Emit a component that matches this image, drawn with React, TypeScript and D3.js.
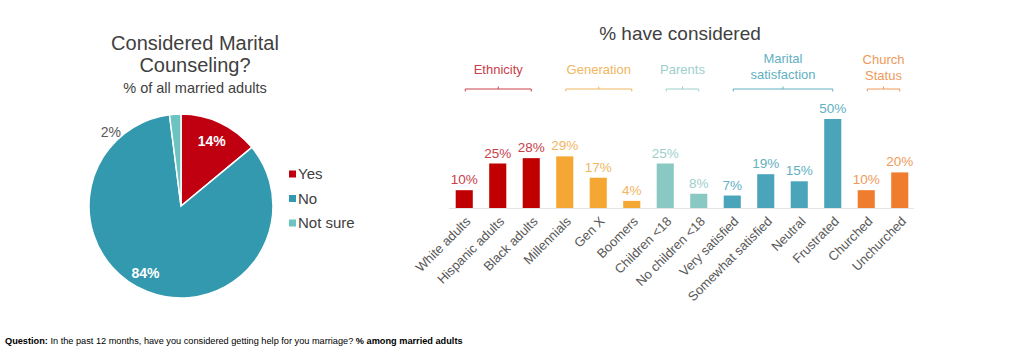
import React from "react";
import * as d3 from "d3";

const pieLabels = ["Yes", "No", "Not sure"];
const pieValues = [14, 84, 2];
const pieColors = ["#C00010", "#3399AE", "#6CC4C0"];

const categories = [
  "White adults", "Hispanic adults", "Black adults",
  "Millennials", "Gen X", "Boomers",
  "Children <18", "No children <18",
  "Very satisfied", "Somewhat satisfied", "Neutral", "Frustrated",
  "Churched", "Unchurched",
];
const values = [10, 25, 28, 29, 17, 4, 25, 8, 7, 19, 15, 50, 10, 20];
const groupNames = [["Ethnicity"], ["Generation"], ["Parents"], ["Marital", "satisfaction"], ["Church", "Status"]];
const groupStart = [0, 3, 6, 8, 12];
const groupEnd = [2, 5, 7, 11, 13];
const groupBar = ["#C00000", "#F5A733", "#8AC8C3", "#4BA5BA", "#F07C2E"];
const groupText = ["#C9404A", "#F2B560", "#9DD0CB", "#62B0C2", "#EE9A5A"];

const FONT = "'Liberation Sans', Arial, sans-serif";

export default function App() {
  const W = 1024, H = 357;
  const cx = 181, cy = 206, r = 92;
  const pie = d3.pie<number>().sort(null).value((d) => d)(pieValues);
  const arc = d3.arc<d3.PieArcDatum<number>>().innerRadius(0).outerRadius(r);
  const labelArc = d3.arc<d3.PieArcDatum<number>>().innerRadius(72).outerRadius(72);

  const x = d3.scaleBand<string>().domain(categories).range([447.5, 916.5]).paddingInner(0.49).paddingOuter(0.245);
  const y = d3.scaleLinear().domain([0, 50]).range([208, 119]);
  const groupOf = (i: number) => groupStart.findIndex((s, g) => i >= s && i <= groupEnd[g]);
  const bw = x.bandwidth();

  return (
    <svg width={W} height={H} style={{ position: "absolute", left: 0, top: 0, background: "#fff" }} fontFamily={FONT}>
      <text x={195} y={50} textAnchor="middle" fontSize={20} fill="#404040">Considered Marital</text>
      <text x={195} y={72} textAnchor="middle" fontSize={20} fill="#404040">Counseling?</text>
      <text x={195} y={93} textAnchor="middle" fontSize={14.5} fill="#404040">% of all married adults</text>
      <g transform={`translate(${cx},${cy})`}>
        {pie.map((d, i) => (
          <path key={i} d={arc(d) || ""} fill={pieColors[i]} stroke="#fff" strokeWidth={1.5} />
        ))}
        {pie.slice(0, 2).map((d, i) => {
          const [lx, ly] = labelArc.centroid(d);
          const off = i === 1 ? -9 : 0;
          return (
            <text key={i} x={lx + off} y={ly} dy="0.35em" textAnchor="middle" fontSize={14} fontWeight="bold" fill="#fff">
              {pieValues[i]}%
            </text>
          );
        })}
        <text x={-60} y={-74} dy="0.35em" textAnchor="end" fontSize={14} fill="#595959">{pieValues[2]}%</text>
      </g>
      {pieLabels.map((l, i) => (
        <g key={l} transform={`translate(289,${174 + i * 24.5})`}>
          <rect x={0} y={-3.5} width={7} height={7} fill={pieColors[i]} />
          <text x={9} y={0} dy="0.35em" fontSize={15} fill="#404040">{l}</text>
        </g>
      ))}

      <text x={680} y={40} textAnchor="middle" fontSize={19} fill="#404040">% have considered</text>
      {groupNames.map((lines, g) => {
        const x0 = (x(categories[groupStart[g]]) as number) + bw / 2 + 1;
        const x1 = (x(categories[groupEnd[g]]) as number) + bw / 2;
        const mid = (x0 + x1) / 2;
        const by = 89;
        return (
          <g key={g}>
            {lines.map((ln, k) => (
              <text key={k} x={mid} y={lines.length === 1 ? 74 : 64 + k * 16 - (g === 3 ? 1 : 0)} textAnchor="middle" fontSize={13} fill={groupText[g]}>
                {ln}
              </text>
            ))}
            <path d={`M${x0},${by + 2.5}V${by}H${x1}V${by + 2.5}M${mid},${by}V${by - 2.5}`} fill="none" stroke={groupText[g]} strokeWidth={1} />
          </g>
        );
      })}
      <line x1={449} x2={914} y1={208.5} y2={208.5} stroke="#E4E4E4" strokeWidth={1} />
      {values.map((v, i) => {
        const g = groupOf(i);
        const bx = x(categories[i]) as number;
        return (
          <g key={i}>
            <rect x={bx} y={y(v)} width={bw} height={y(0) - y(v)} fill={groupBar[g]} />
            <text x={bx + bw / 2} y={y(v) - 6} textAnchor="middle" fontSize={13.5} fill={groupText[g]}>{v}%</text>
            <text transform={`translate(${bx + bw / 2 + 4},${219}) rotate(-45)`} textAnchor="end" dy="0.35em" fontSize={13} fill="#595959">
              {categories[i]}
            </text>
          </g>
        );
      })}

      <text x={5} y={344} fontSize={9.2} fill="#000">
        <tspan fontWeight="bold">Question:</tspan>
        <tspan> In the past 12 months, have you considered getting help for you marriage? </tspan>
        <tspan fontWeight="bold">% among married adults</tspan>
      </text>
    </svg>
  );
}
